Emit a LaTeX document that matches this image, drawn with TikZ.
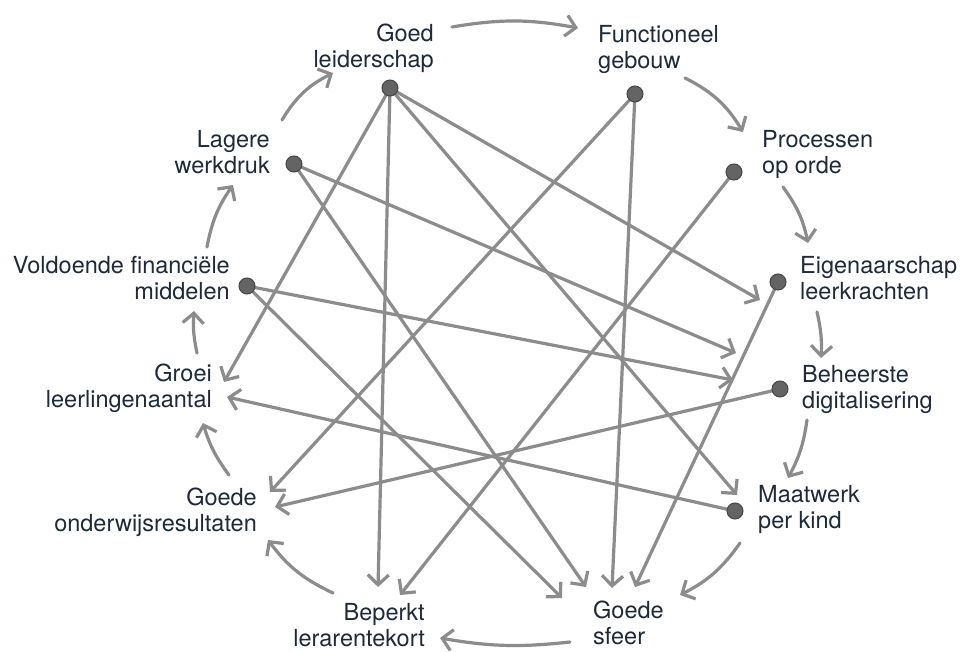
\documentclass[tikz,border=0pt]{standalone}
\usepackage{fontspec}
\setmainfont{TeX Gyre Heros}
\usetikzlibrary{arrows.meta}
\definecolor{txt}{RGB}{30,42,58}
\definecolor{pencil}{RGB}{140,140,140}
\definecolor{dotc}{RGB}{100,100,100}
\begin{document}
\begin{tikzpicture}[x=1pt,y=-1pt,
  lbl/.style={font=\fontsize{23.5}{26.5}\selectfont, text=txt, inner sep=0pt},
  lblL/.style={lbl, anchor=north west, align=left},
  lblR/.style={lbl, anchor=north east, align=right},
  dotn/.style={circle, fill=dotc, draw=dotc!70!black, line width=1pt, minimum size=16pt, inner sep=0pt},
  link/.style={draw=pencil, line width=3.2pt, line cap=round, line join=round, -{Straight Barb[length=10pt,width=21pt]}},
  cyc/.style={link, bend left=#1},
]
\useasboundingbox (0,0) rectangle (961,652);
\fill[white] (0,0) rectangle (961,652);

% labels
\node[lblR] (lLei)  at (434,23.5)  {\rule{0pt}{17.5pt}Goed\\leiderschap};
\node[lblL] (lFunc) at (598,24.5)  {\rule{0pt}{17.5pt}Functioneel\\gebouw};
\node[lblL] (lProc) at (762,129.5) {\rule{0pt}{17.5pt}Processen\\op orde};
\node[lblL] (lEig)  at (800,255.5) {\rule{0pt}{17.5pt}Eigenaarschap\\leerkrachten};
\node[lblL] (lBeh)  at (802,364.5) {\rule{0pt}{17.5pt}Beheerste\\digitalisering};
\node[lblL] (lMaat) at (758,484.5) {\rule{0pt}{17.5pt}Maatwerk\\per kind};
\node[lblL] (lSf)   at (593,600.5) {\rule{0pt}{17.5pt}Goede\\sfeer};
\node[lblR] (lBep)  at (425,602.5) {\rule{0pt}{17.5pt}Beperkt\\lerarentekort};
\node[lblR] (lOnd)  at (257,487.5) {\rule{0pt}{17.5pt}Goede\\onderwijsresultaten};
\node[lblR] (lGro)  at (212,363.5) {\rule{0pt}{17.5pt}Groei\\leerlingenaantal};
\node[lblR] (lVol)  at (230,255.5) {\rule{0pt}{17.5pt}Voldoende financiële\\middelen};
\node[lblR] (lLag)  at (270,129.5) {\rule{0pt}{17.5pt}Lagere\\werkdruk};

% dots (sources)
\coordinate (pLei)  at (390,88);
\coordinate (pFunc) at (635,94);
\coordinate (pProc) at (734,172);
\coordinate (pEig)  at (778,282);
\coordinate (pBeh)  at (780,389);
\coordinate (pMaat) at (735,511);
\coordinate (pLag)  at (294,164);
\coordinate (pVol)  at (247,286);

% arrow tips
\coordinate (tGroA) at (224,382);
\coordinate (tGroB) at (227,397);
\coordinate (tOndA) at (270,492);
\coordinate (tOndB) at (275,507);
\coordinate (tBepA) at (378,587);
\coordinate (tBepB) at (400,595);
\coordinate (tSfA)  at (562,598);
\coordinate (tSfB)  at (586,587);
\coordinate (tSfC)  at (612,588);
\coordinate (tSfD)  at (635,587);
\coordinate (tMaat) at (737,495);
\coordinate (tBehA) at (736,353);
\coordinate (tBehB) at (733,380);
\coordinate (tEig)  at (760,300);

% cross links
\draw[link] (pLei) -- (tGroA);
\draw[link] (pLei) -- (tBepA);
\draw[link] (pLei) -- (tEig);
\draw[link] (pLei) -- (tMaat);
\draw[link] (pFunc) -- (tOndA);
\draw[link] (pFunc) -- (tSfC);
\draw[link] (pProc) -- (tBepB);
\draw[link] (pEig) -- (tSfD);
\draw[link] (pBeh) -- (tOndB);
\draw[link] (pMaat) -- (tGroB);
\draw[link] (pLag) -- (tBehA);
\draw[link] (pLag) -- (tSfB);
\draw[link] (pVol) -- (tBehB);
\draw[link] (pVol) -- (tSfA);

% dots on top
\foreach \p in {Lei,Func,Proc,Eig,Beh,Maat,Lag,Vol}
  \node[dotn] (d\p) at (p\p) {};

% cycle arrows: tails and tips
\coordinate (c1a) at (452,27);  \coordinate (c1b) at (578,28);
\coordinate (c2a) at (685,78);  \coordinate (c2b) at (743,132);
\coordinate (c3a) at (783,187); \coordinate (c3b) at (808,243);
\coordinate (c4a) at (817,312); \coordinate (c4b) at (821,358);
\coordinate (c5a) at (807,420); \coordinate (c5b) at (788,478);
\coordinate (c6a) at (740,543); \coordinate (c6b) at (680,595);
\coordinate (c7a) at (570,642); \coordinate (c7b) at (440,638);
\coordinate (c8a) at (333,593); \coordinate (c8b) at (268,540);
\coordinate (c9a) at (229,475); \coordinate (c9b) at (203,423);
\coordinate (c10a) at (197,353); \coordinate (c10b) at (194,311);
\coordinate (c11a) at (207,247); \coordinate (c11b) at (233,185);
\coordinate (c12a) at (282,120); \coordinate (c12b) at (333,73);

\draw[cyc=10] (c1a) to (c1b);
\draw[cyc=16] (c2a) to (c2b);
\draw[cyc=12] (c3a) to (c3b);
\draw[cyc=8]  (c4a) to (c4b);
\draw[cyc=10] (c5a) to (c5b);
\draw[cyc=14] (c6a) to (c6b);
\draw[cyc=8]  (c7a) to (c7b);
\draw[cyc=14] (c8a) to (c8b);
\draw[cyc=10] (c9a) to (c9b);
\draw[cyc=8]  (c10a) to (c10b);
\draw[cyc=12] (c11a) to (c11b);
\draw[cyc=16] (c12a) to (c12b);
\end{tikzpicture}
\end{document}
